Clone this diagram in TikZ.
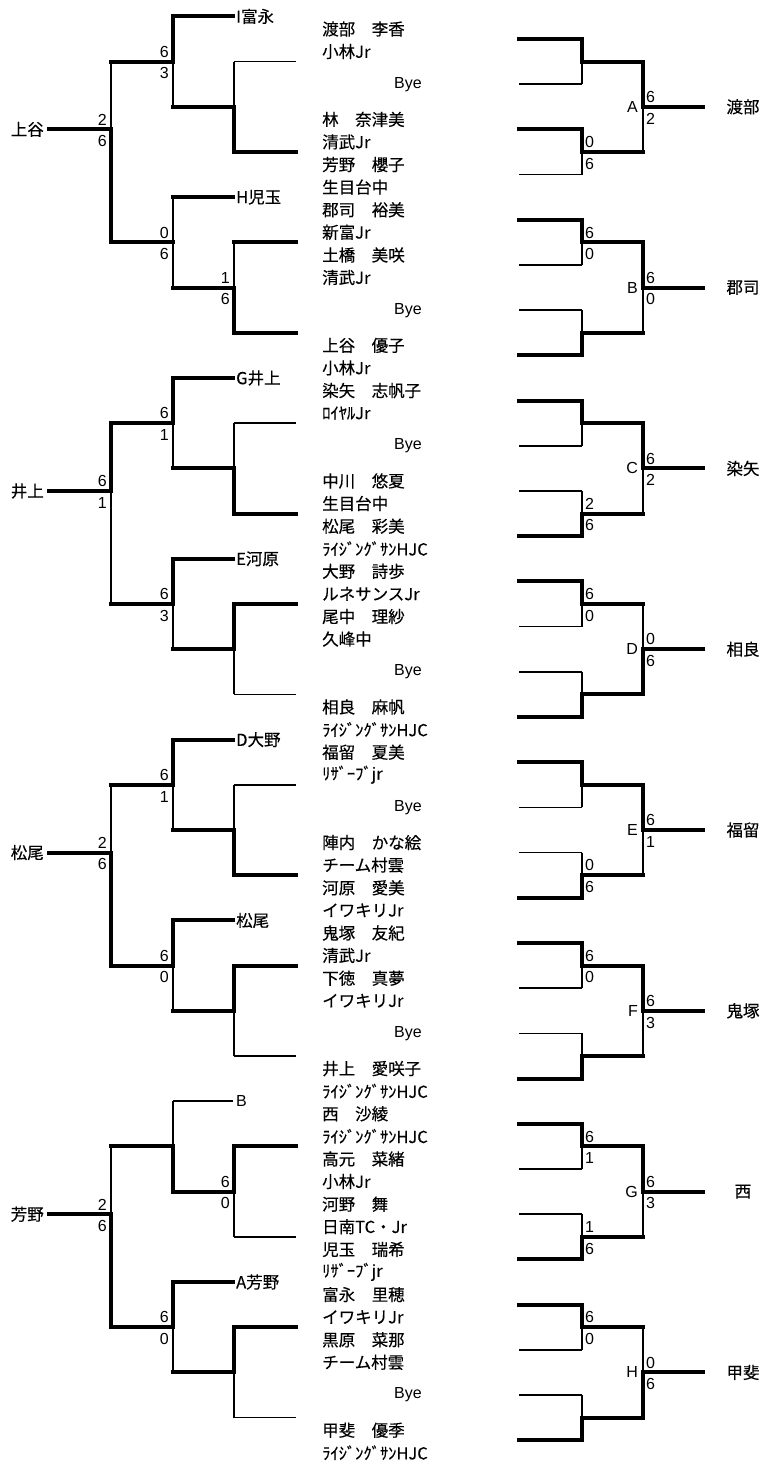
\documentclass[tikz,border=0pt]{standalone}
\usepackage{fontspec}
\setmainfont{Liberation Sans}
\newfontfamily\jp[FakeBold=0.3]{Noto Sans CJK JP}
\newfontfamily\jpp[FakeBold=0.3,RawFeature=+pwid]{Noto Sans CJK JP}
\newcounter{scn}
\newcommand\ty[1]{(39+45.2*(#1))}
\newcommand\hl[4]{\draw[#1] (#2,{\ty{#4}}) -- (#3,{\ty{#4}});}
\newcommand\vl[4]{\draw[#1] (#2,{\ty{#3}}) -- (#2,{\ty{#4}});}
% scores left of a vertical at x=#1, match line t=#2
\newcommand\scL[4]{\stepcounter{scn}%
  \node[sc,anchor=south east] (sa\thescn) at (#1-4,{\ty{#2}-4}) {#3};
  \node[sc,anchor=north east] (sb\thescn) at (#1-4,{\ty{#2}+6}) {#4};}
\newcommand\scR[4]{\stepcounter{scn}%
  \node[sc,anchor=south west] (sa\thescn) at (#1+3,{\ty{#2}-4}) {#3};
  \node[sc,anchor=north west] (sb\thescn) at (#1+3,{\ty{#2}+6}) {#4};}
% right bracket pair: upper leaf t=#1
\newcommand\rpair[3]{%
  \hl{#2}{519}{582}{#1}\vl{#2}{582}{#1}{#1+0.5}%
  \hl{#3}{519}{582}{#1+1}\vl{#3}{582}{#1+0.5}{#1+1}%
  \hl{thk}{582}{643}{#1+0.5}}
% right bracket final: group start t=#1
\newcommand\rfinal[5]{%
  \vl{#2}{643}{#1+0.5}{#1+1.5}\vl{#3}{643}{#1+1.5}{#1+2.5}%
  \hl{thk}{643}{703}{#1+1.5}%
  \node[txt,anchor=east] (L#4) at (638,{\ty{#1+1.5}}) {#4};
  \node[jpn] (R#4) at (743,{\ty{#1+1.5}}) {#5};}
\begin{document}
\begin{tikzpicture}[x=1pt,y=-1pt,
  thk/.style={line width=4pt,line cap=rect},
  thn/.style={line width=1.7pt},
  txt/.style={inner sep=0pt,font=\fontsize{16}{18}\selectfont},
  sc/.style={inner sep=0pt,font=\fontsize{16}{18}\selectfont},
  jpn/.style={inner sep=0pt,font=\fontsize{16.5}{18}\selectfont\jp},
  club/.style={inner sep=0pt,font=\fontsize{16.5}{18}\selectfont\jpp}]
\useasboundingbox (0,0) rectangle (766,1463);

% ===== Left bracket, quarter 1 =====
\hl{thk}{173}{233}{-0.5}
\vl{thk}{173}{-0.5}{0.5}\vl{thn}{173}{0.5}{1.5}
\hl{thk}{173}{234}{1.5}
\vl{thn}{234}{0.5}{1.5}\vl{thk}{234}{1.5}{2.5}
\hl{thn}{234}{296}{0.5}\hl{thk}{234}{296}{2.5}
\hl{thk}{111}{173}{0.5}\scL{173}{0.5}{6}{3}
\hl{thk}{173}{233}{3.5}
\vl{thn}{173}{3.5}{5.5}
\hl{thk}{173}{234}{5.5}
\vl{thn}{234}{4.5}{5.5}\vl{thk}{234}{5.5}{6.5}
\hl{thk}{234}{296}{4.5}\hl{thk}{234}{296}{6.5}
\scL{234}{5.5}{1}{6}
\hl{thk}{111}{173}{4.5}\scL{173}{4.5}{0}{6}
\vl{thn}{111}{0.5}{2}\vl{thk}{111}{2}{4.5}
\hl{thk}{49}{111}{2}\scL{111}{2}{2}{6}
\node[jpn,anchor=west] (e1) at (236,{\ty{-0.5}}) {I富永};
\node[jpn,anchor=west] (e2) at (236,{\ty{3.5}}) {H児玉};
\node[jpn,anchor=east] (w1) at (44,{\ty{2}}) {上谷};

% ===== quarter 2 =====
\hl{thk}{173}{233}{7.5}
\vl{thk}{173}{7.5}{8.5}\vl{thn}{173}{8.5}{9.5}
\hl{thk}{173}{234}{9.5}
\vl{thn}{234}{8.5}{9.5}\vl{thk}{234}{9.5}{10.5}
\hl{thn}{234}{296}{8.5}\hl{thk}{234}{296}{10.5}
\hl{thk}{111}{173}{8.5}\scL{173}{8.5}{6}{1}
\hl{thk}{173}{233}{11.5}
\vl{thk}{173}{11.5}{12.5}\vl{thn}{173}{12.5}{13.5}
\hl{thk}{173}{234}{13.5}
\vl{thk}{234}{12.5}{13.5}\vl{thn}{234}{13.5}{14.5}
\hl{thk}{234}{296}{12.5}\hl{thn}{234}{296}{14.5}
\hl{thk}{111}{173}{12.5}\scL{173}{12.5}{6}{3}
\vl{thk}{111}{8.5}{10}\vl{thn}{111}{10}{12.5}
\hl{thk}{49}{111}{10}\scL{111}{10}{6}{1}
\node[jpn,anchor=west] (e3) at (236,{\ty{7.5}}) {G井上};
\node[jpn,anchor=west] (e4) at (236,{\ty{11.5}}) {E河原};
\node[jpn,anchor=east] (w2) at (44,{\ty{10}}) {井上};

% ===== quarter 3 =====
\hl{thk}{173}{233}{15.5}
\vl{thk}{173}{15.5}{16.5}\vl{thn}{173}{16.5}{17.5}
\hl{thk}{173}{234}{17.5}
\vl{thn}{234}{16.5}{17.5}\vl{thk}{234}{17.5}{18.5}
\hl{thn}{234}{296}{16.5}\hl{thk}{234}{296}{18.5}
\hl{thk}{111}{173}{16.5}\scL{173}{16.5}{6}{1}
\hl{thk}{173}{233}{19.5}
\vl{thk}{173}{19.5}{20.5}\vl{thn}{173}{20.5}{21.5}
\hl{thk}{173}{234}{21.5}
\vl{thk}{234}{20.5}{21.5}\vl{thn}{234}{21.5}{22.5}
\hl{thk}{234}{296}{20.5}\hl{thn}{234}{296}{22.5}
\hl{thk}{111}{173}{20.5}\scL{173}{20.5}{6}{0}
\vl{thn}{111}{16.5}{18}\vl{thk}{111}{18}{20.5}
\hl{thk}{49}{111}{18}\scL{111}{18}{2}{6}
\node[jpn,anchor=west] (e5) at (236,{\ty{15.5}}) {D大野};
\node[jpn,anchor=west] (e6) at (236,{\ty{19.5}}) {松尾};
\node[jpn,anchor=east] (w3) at (44,{\ty{18}}) {松尾};

% ===== quarter 4 =====
\hl{thn}{173}{233}{23.5}
\vl{thn}{173}{23.5}{24.5}\vl{thk}{173}{24.5}{25.5}
\hl{thk}{173}{234}{25.5}
\vl{thk}{234}{24.5}{25.5}\vl{thn}{234}{25.5}{26.5}
\hl{thk}{234}{296}{24.5}\hl{thn}{234}{296}{26.5}
\scL{234}{25.5}{6}{0}
\hl{thk}{111}{173}{24.5}
\hl{thk}{173}{233}{27.5}
\vl{thk}{173}{27.5}{28.5}\vl{thn}{173}{28.5}{29.5}
\hl{thk}{173}{234}{29.5}
\vl{thk}{234}{28.5}{29.5}\vl{thn}{234}{29.5}{30.5}
\hl{thk}{234}{296}{28.5}\hl{thn}{234}{296}{30.5}
\hl{thk}{111}{173}{28.5}\scL{173}{28.5}{6}{0}
\vl{thn}{111}{24.5}{26}\vl{thk}{111}{26}{28.5}
\hl{thk}{49}{111}{26}\scL{111}{26}{2}{6}
\node[txt,anchor=west] (e7) at (236,{\ty{23.5}}) {B};
\node[jpn,anchor=west] (e8) at (236,{\ty{27.5}}) {A芳野};
\node[jpn,anchor=east] (w4) at (44,{\ty{26}}) {芳野};

% ===== Right bracket =====
\rpair{0}{thk}{thn}
\rpair{2}{thk}{thn}\scR{582}{2.5}{0}{6}
\rfinal{0}{thk}{thn}{A}{渡部}\scR{643}{1.5}{6}{2}

\rpair{4}{thk}{thn}\scR{582}{4.5}{6}{0}
\rpair{6}{thn}{thk}
\rfinal{4}{thk}{thn}{B}{郡司}\scR{643}{5.5}{6}{0}

\rpair{8}{thk}{thn}
\rpair{10}{thn}{thk}\scR{582}{10.5}{2}{6}
\rfinal{8}{thk}{thn}{C}{染矢}\scR{643}{9.5}{6}{2}

\rpair{12}{thk}{thn}\scR{582}{12.5}{6}{0}
\rpair{14}{thn}{thk}
\rfinal{12}{thn}{thk}{D}{相良}\scR{643}{13.5}{0}{6}

\rpair{16}{thk}{thn}
\rpair{18}{thn}{thk}\scR{582}{18.5}{0}{6}
\rfinal{16}{thk}{thn}{E}{福留}\scR{643}{17.5}{6}{1}

\rpair{20}{thk}{thn}\scR{582}{20.5}{6}{0}
\rpair{22}{thn}{thk}
\rfinal{20}{thk}{thn}{F}{鬼塚}\scR{643}{21.5}{6}{3}

\rpair{24}{thk}{thn}\scR{582}{24.5}{6}{1}
\rpair{26}{thn}{thk}\scR{582}{26.5}{1}{6}
\rfinal{24}{thk}{thn}{G}{西}\scR{643}{25.5}{6}{3}

\rpair{28}{thk}{thn}\scR{582}{28.5}{6}{0}
\rpair{30}{thn}{thk}
\rfinal{28}{thn}{thk}{H}{甲斐}\scR{643}{29.5}{0}{6}

% ===== Players =====
\foreach \s/\a/\b in {
0/渡部　李香/小林Ｊｒ,
2/林　奈津美/清武Ｊｒ,
3/芳野　櫻子/生目台中,
4/郡司　裕美/新富Jr,
5/土橋　美咲/清武Ｊｒ,
7/上谷　優子/小林Ｊｒ,
8/染矢　志帆子/ﾛｲﾔﾙＪｒ,
10/中川　悠夏/生目台中,
11/松尾　彩美/ﾗｲｼﾞﾝｸﾞｻﾝHJC,
12/大野　詩歩/ルネサンスJｒ,
13/尾中　理紗/久峰中,
15/相良　麻帆/ﾗｲｼﾞﾝｸﾞｻﾝHJC,
16/福留　夏美/ﾘｻﾞｰﾌﾞjｒ,
18/陣内　かな絵/チーム村雲,
19/河原　愛美/イワキリＪｒ,
20/鬼塚　友紀/清武Ｊｒ,
21/下徳　真夢/イワキリＪｒ,
23/井上　愛咲子/ﾗｲｼﾞﾝｸﾞｻﾝHJC,
24/西　沙綾/ﾗｲｼﾞﾝｸﾞｻﾝHJC,
25/高元　菜緒/小林Ｊｒ,
26/河野　舞/日南ＴＣ・Jr,
27/児玉　瑞希/ﾘｻﾞｰﾌﾞjｒ,
28/富永　里穂/イワキリＪｒ,
29/黒原　菜那/チーム村雲,
31/甲斐　優季/ﾗｲｼﾞﾝｸﾞｻﾝHJC}
{\node[jpn,anchor=west] (n\s) at (322,{\ty{\s}-10}) {\a};
 \node[club,anchor=west] (c\s) at (322,{\ty{\s}+12.5}) {\b};}
\foreach \s in {1,6,9,14,17,22,30}
 {\node[txt] (bye\s) at (408,{\ty{\s}}) {Bye};}
\end{tikzpicture}
\end{document}
